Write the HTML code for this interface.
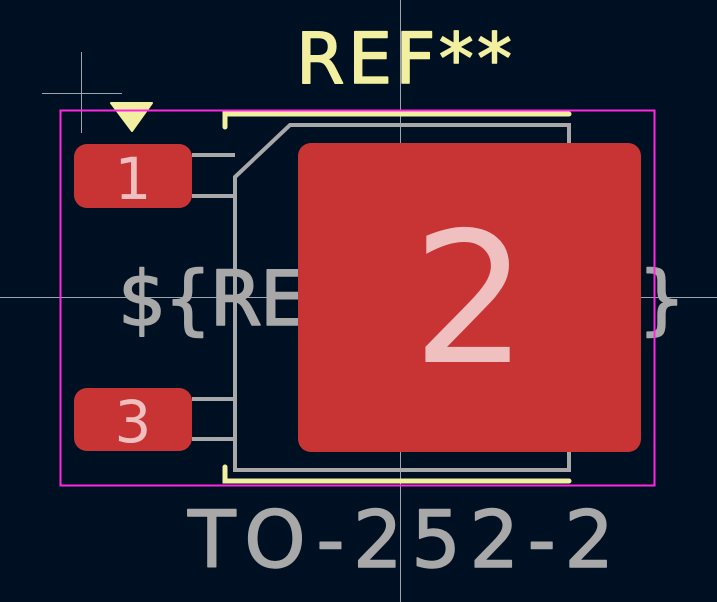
<!DOCTYPE html>
<html><head><style>html,body{margin:0;padding:0;background:#001023;}svg{display:block}</style></head>
<body>
<svg width="717" height="602" viewBox="0 0 717 602" xmlns="http://www.w3.org/2000/svg">
<rect width="717" height="602" fill="#001023"/>
<g stroke="#c8c8d0" stroke-width="1" opacity="0.8">
<line x1="400.5" y1="0" x2="400.5" y2="602"/>
<line x1="0" y1="297.5" x2="717" y2="297.5"/>
<line x1="81.5" y1="52" x2="81.5" y2="133"/>
<line x1="42" y1="93.5" x2="122" y2="93.5"/>
</g>
<text x="404" y="83" text-anchor="middle" font-family="DejaVu Sans, Liberation Sans, sans-serif" font-size="70" fill="#f2f0a0" stroke="#f2f0a0" stroke-width="1.5" stroke-linejoin="round" textLength="216" lengthAdjust="spacing">REF**</text>
<text x="402" y="325" text-anchor="middle" font-family="DejaVu Sans, Liberation Sans, sans-serif" font-size="76" fill="#a8a8a8" stroke="#a8a8a8" stroke-width="1.5" stroke-linejoin="round" textLength="568" lengthAdjust="spacing">${REFERENCE}</text>
<text x="401" y="567" text-anchor="middle" font-family="DejaVu Sans, Liberation Sans, sans-serif" font-size="78" fill="#a8a8a8" stroke="#a8a8a8" stroke-width="1.5" stroke-linejoin="round" textLength="426" lengthAdjust="spacing">TO-252-2</text>
<g fill="none" stroke="#a8a8a8" stroke-width="4">
<polygon points="235,177 290,125 569,125 569,470 235,470"/>
<line x1="192" y1="155" x2="235" y2="155"/>
<line x1="192" y1="196" x2="235" y2="196"/>
<line x1="192" y1="399" x2="235" y2="399"/>
<line x1="192" y1="439" x2="235" y2="439"/>
</g>
<g fill="none" stroke="#f2f0a0" stroke-width="5" stroke-linecap="round">
<polyline points="225,127 225,114 569,114"/>
<polyline points="225,467 225,481 569,481"/>
</g>
<polygon points="111,103 152,103 132,131" fill="#f2f0a0" stroke="#f2f0a0" stroke-width="2" stroke-linejoin="round"/>
<rect x="60.5" y="110.5" width="594" height="375" fill="none" stroke="#ff26e2" stroke-width="2"/>
<g fill="#c83434">
<rect x="74" y="144" width="118" height="64" rx="13"/>
<rect x="74" y="388" width="118" height="63" rx="13"/>
<rect x="298" y="143" width="343" height="309" rx="13"/>
</g>
<g font-family="DejaVu Sans, Liberation Sans, sans-serif" fill="#f0c0c0" text-anchor="middle">
<text x="133" y="199" font-size="58">1</text>
<text x="133" y="442" font-size="58">3</text>
<text x="470" y="362" font-size="182">2</text>
</g>
</svg>
</body></html>
